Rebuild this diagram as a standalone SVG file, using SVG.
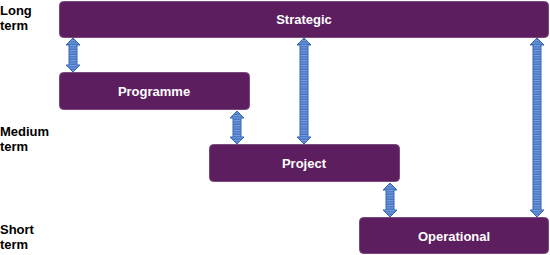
<svg xmlns="http://www.w3.org/2000/svg" width="550" height="255" viewBox="0 0 550 255">
<style>
.box{fill:#5c1e5e;stroke:#7a4a7c;stroke-width:1}
.bt{font-family:"Liberation Sans",Arial,sans-serif;font-weight:bold;font-size:13px;fill:#ffffff;text-anchor:middle}
.lt{font-family:"Liberation Sans",Arial,sans-serif;font-weight:bold;font-size:13px;fill:#000000}
.arr{fill:url(#stripes);stroke:#3566b8;stroke-width:1}
</style>
<defs>
<pattern id="stripes" patternUnits="userSpaceOnUse" width="20" height="2.5">
<rect width="20" height="2.5" fill="#4676c6"/>
<rect y="0" width="20" height="1" fill="#7d9fd9"/>
</pattern>
</defs>
<g id="labels">
<text class="lt" x="0" y="15">Long</text>
<text class="lt" x="0" y="30">term</text>
<text class="lt" x="0" y="136">Medium</text>
<text class="lt" x="0" y="151">term</text>
<text class="lt" x="0" y="234">Short</text>
<text class="lt" x="0" y="249">term</text>
</g>
<g id="connectors">
<path class="arr" d="M73,38 L80,45 L77,45 L77,65 L80,65 L73,72 L66,65 L69,65 L69,45 L66,45 Z"/>
<path class="arr" d="M237,111 L244,118 L241,118 L241,137 L244,137 L237,144 L230,137 L233,137 L233,118 L230,118 Z"/>
<path class="arr" d="M304,38 L311,45 L308,45 L308,137 L311,137 L304,144 L297,137 L300,137 L300,45 L297,45 Z"/>
<path class="arr" d="M390,183 L397,190 L394,190 L394,210 L397,210 L390,217 L383,210 L386,210 L386,190 L383,190 Z"/>
<path class="arr" d="M537,38 L544,45 L541,45 L541,210 L544,210 L537,217 L530,210 L533,210 L533,45 L530,45 Z"/>
</g>
<g id="strategic">
<rect class="box" x="59.5" y="1.5" width="489" height="36" rx="4"/>
<text class="bt" x="304" y="24">Strategic</text>
</g>
<g id="programme">
<rect class="box" x="59.5" y="72.5" width="190" height="37" rx="4"/>
<text class="bt" x="154" y="96">Programme</text>
</g>
<g id="project">
<rect class="box" x="209.5" y="144.5" width="190" height="37" rx="4"/>
<text class="bt" x="304" y="168">Project</text>
</g>
<g id="operational">
<rect class="box" x="359.5" y="217.5" width="189" height="36" rx="4"/>
<text class="bt" x="454" y="241">Operational</text>
</g>
</svg>
